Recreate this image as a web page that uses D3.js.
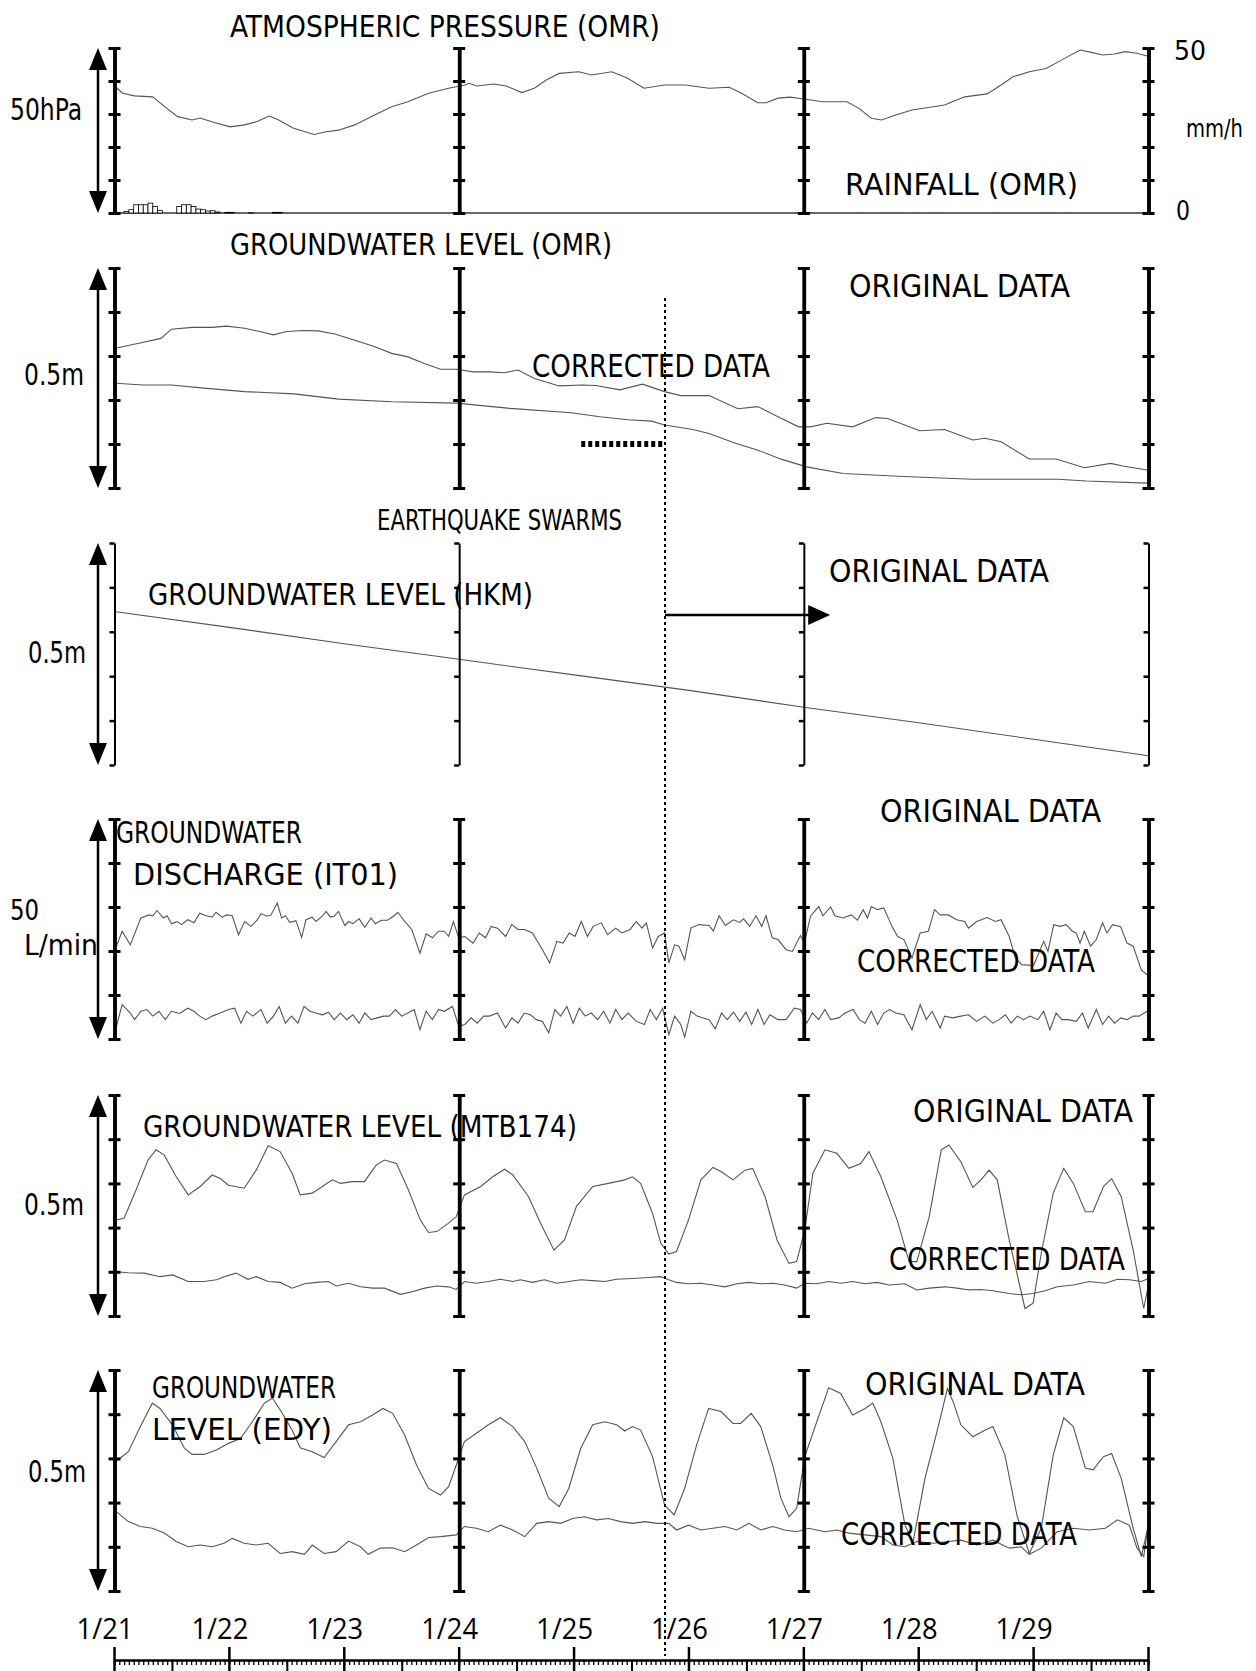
<!DOCTYPE html>
<html>
<head>
<meta charset="utf-8">
<script src="https://cdn.jsdelivr.net/npm/d3@7"></script>
<style>
body { margin: 0; background: #fff; }
text { font-family: "DejaVu Sans Condensed", "DejaVu Sans", sans-serif; fill: #000; }
text.day { font-family: "Open Sans", "DejaVu Sans", sans-serif; }
</style>
</head>
<body>
<div id="chart"></div>
<script>
// ---- data (time in hours from 1/21 00:00) ----
const dayLabels = ["1/21", "1/22", "1/23", "1/24", "1/25", "1/26", "1/27", "1/28", "1/29"]
const eqSwarmHour = 115            // start of earthquake swarms
const swarmBar = [97.5, 114.5]     // thick dotted bar in OMR panel
const swarmArrow = [115, 149.5]    // arrow in HKM panel

// atmospheric pressure (hPa, relative to bottom of panel)
const pressure = [[0.3,38.1],[1.7,36.3],[4.2,35.5],[8.0,35.2],[10.6,32.1],[13.2,29.2],[16.2,28.2],[17.9,28.8],[20.8,27.4],[24.2,26.1],[27.2,26.7],[29.8,27.7],[32.3,29.4],[34.0,28.4],[37.4,25.7],[41.7,23.8],[44.2,24.6],[46.8,25.1],[50.2,26.7],[53.6,29.2],[57.9,32.2],[61.3,33.7],[65.6,36.3],[69.8,37.8],[73.2,38.8],[74.0,39.3],[75.7,38.5],[79.2,39.1],[81.8,38.5],[85.1,36.5],[87.7,37.8],[90.2,40.3],[92.9,42.3],[97.0,42.8],[99.6,41.8],[103.9,42.8],[107.2,40.8],[110.6,37.8],[114.9,38.8],[119.2,38.8],[124.2,37.8],[128.4,38.1],[131.0,36.3],[134.4,33.4],[136.1,33.4],[138.6,34.8],[141.1,35.1],[143.7,34.6],[147.9,33.7],[153.0,33.7],[155.5,31.7],[158.1,28.7],[160.2,28.2],[163.2,29.7],[166.6,31.2],[173.4,32.7],[177.6,35.2],[182.3,36.1],[185.2,38.8],[187.7,41.3],[191.1,42.8],[194.6,43.8],[197.9,46.4],[201.7,49.4],[204.3,48.6],[206.4,47.9],[208.9,48.2],[211.1,48.9],[213.6,48.4],[215.7,47.6]]

// hourly rainfall (mm/h)
const rainfall = [[2,0.5],[3,1.0],[4,2.5],[5,2.5],[6,2.5],[7,3.0],[8,2.0],[9,0.8],[13,2.0],[14,2.5],[15,2.5],[16,2.0],[17,1.2],[18,1.0],[19,0.6],[20,0.7],[21,0.3],[23,0.2],[24,0.2],[28,0.1],[33,0.2],[34,0.2]]

// groundwater level OMR (m)
const omrOriginal = [[0.4,0.318],[5.1,0.329],[9.7,0.340],[11.9,0.361],[16.2,0.365],[20.4,0.365],[23.4,0.368],[27.2,0.363],[30.6,0.355],[33.2,0.348],[35.7,0.355],[39.2,0.358],[42.5,0.357],[46.0,0.350],[50.2,0.336],[54.4,0.321],[57.9,0.306],[61.3,0.298],[64.7,0.283],[68.1,0.270],[71.5,0.270],[74.9,0.264],[78.4,0.264],[81.4,0.262],[84.3,0.268],[87.7,0.249],[92.9,0.232],[97.8,0.234],[100.5,0.233],[105.6,0.223],[110.3,0.236],[114.9,0.219],[118.3,0.210],[124.2,0.210],[130.2,0.180],[134.4,0.185],[138.6,0.162],[142.9,0.139],[145.4,0.139],[148.8,0.147],[154.2,0.139],[159.0,0.160],[161.5,0.158],[168.2,0.130],[173.4,0.133],[179.3,0.109],[181.8,0.113],[185.2,0.105],[191.1,0.066],[196.7,0.066],[202.6,0.046],[208.1,0.056],[210.6,0.050],[215.7,0.041]]
const omrCorrected = [[0.4,0.238],[5.9,0.234],[11.9,0.234],[18.7,0.227],[27.2,0.219],[37.5,0.214],[46.8,0.202],[57.9,0.196],[71.5,0.193],[82.6,0.181],[95.4,0.171],[101.4,0.162],[107.3,0.155],[112.2,0.152],[114.9,0.143],[120.8,0.133],[124.2,0.124],[129.4,0.103],[134.4,0.086],[139.4,0.065],[144.6,0.048],[152.2,0.033],[164.9,0.026],[179.3,0.020],[197.1,0.020],[203.0,0.016],[215.7,0.011]]

// groundwater level HKM (m)
const hkmOriginal = [[0.3,0.345],[24,0.310],[48,0.273],[72,0.238],[96,0.203],[120,0.168],[144,0.130],[168,0.095],[192,0.058],[216,0.021]]

// groundwater discharge IT01 (L/min)
const it01Original = [[0.4,21.1],[1.6,24.5],[3.3,21.4],[5.5,27.5],[7.2,28.2],[8.0,28.0],[8.9,29.2],[10.2,27.5],[11.0,28.0],[11.9,26.2],[13.1,26.7],[14.0,26.0],[15.3,27.1],[16.6,26.4],[17.8,28.6],[19.1,28.0],[20.4,27.7],[21.2,28.8],[22.5,27.7],[23.4,28.2],[24.6,28.0],[25.9,23.7],[27.2,26.7],[28.5,25.6],[29.8,27.0],[30.6,28.5],[31.9,27.9],[32.7,28.2],[34.0,30.9],[34.9,27.5],[35.7,28.0],[36.6,26.5],[37.9,26.9],[39.1,23.1],[40.0,27.1],[41.3,27.7],[42.1,26.7],[43.4,27.9],[44.2,29.0],[45.1,27.7],[45.9,27.9],[46.8,29.0],[48.1,25.8],[48.9,26.7],[49.8,26.2],[51.1,27.3],[52.3,25.4],[53.6,27.5],[54.5,26.2],[55.7,27.0],[57.0,27.0],[58.3,27.9],[59.2,28.8],[60.4,27.0],[62.1,24.9],[63.8,19.5],[65.1,23.9],[66.4,23.0],[67.7,24.5],[68.9,24.5],[69.8,23.3],[70.8,26.7],[71.9,23.0],[73.2,23.3],[74.9,21.8],[76.2,24.1],[77.5,23.0],[78.7,25.6],[80.0,25.2],[81.7,23.3],[83.0,26.0],[84.3,24.9],[85.6,24.9],[87.3,24.1],[89.4,20.3],[90.9,17.3],[92.4,22.2],[93.7,21.8],[95.0,24.1],[96.2,23.3],[97.5,26.7],[98.8,23.3],[100.0,25.6],[101.7,26.4],[103.0,23.7],[104.7,25.2],[106.0,24.1],[107.7,24.9],[109.0,26.7],[110.2,25.2],[111.1,26.4],[112.4,20.7],[113.6,23.3],[114.9,24.1],[115.8,17.3],[117.0,21.4],[117.9,21.1],[119.1,18.0],[120.4,25.2],[122.1,26.0],[124.2,25.8],[125.1,24.5],[126.3,28.0],[127.6,25.8],[129.3,27.1],[130.6,26.5],[131.4,27.3],[132.7,25.6],[134.0,28.0],[135.2,25.6],[136.1,28.0],[137.4,23.0],[138.6,22.6],[140.3,20.3],[141.6,19.9],[143.3,23.5],[144.1,21.8],[145.4,27.9],[147.1,30.1],[148.0,28.0],[149.6,30.0],[150.5,28.0],[152.2,27.5],[153.9,28.2],[155.2,27.0],[156.4,29.4],[157.3,27.5],[158.1,30.1],[159.4,29.4],[160.7,29.8],[162.4,25.6],[163.6,23.3],[164.9,22.6],[166.6,18.4],[168.3,24.1],[170.0,24.5],[171.3,29.4],[172.5,28.2],[174.2,28.2],[175.9,27.1],[177.6,26.7],[178.4,25.2],[180.1,26.7],[182.3,27.6],[184.0,26.7],[185.2,27.1],[186.9,23.3],[188.2,18.4],[189.5,16.9],[192.0,16.7],[194.1,22.2],[195.0,19.9],[196.2,26.0],[197.5,25.6],[198.8,26.0],[200.1,24.5],[200.9,24.1],[201.7,21.8],[202.6,24.5],[203.9,21.1],[205.1,22.6],[206.4,26.4],[207.3,24.1],[208.5,26.0],[210.2,25.5],[211.5,21.8],[212.8,21.1],[214.5,15.7],[215.7,14.6]]
const it01Corrected = [[0.4,2.9],[1.6,7.8],[3.3,5.9],[4.2,4.4],[5.5,6.3],[6.8,6.7],[8.0,5.2],[9.3,6.3],[10.6,4.4],[11.9,6.3],[13.6,5.8],[15.3,7.0],[16.6,6.3],[17.8,5.2],[19.1,4.4],[20.4,5.2],[22.1,5.9],[23.8,6.7],[25.1,7.0],[26.4,3.6],[27.6,6.3],[28.9,5.2],[30.6,6.7],[31.9,3.6],[33.2,5.2],[34.4,7.4],[35.7,3.6],[37.0,5.2],[38.3,3.6],[39.6,7.4],[40.8,6.3],[42.1,5.9],[43.4,5.5],[44.7,6.1],[45.9,4.4],[47.2,5.9],[48.5,4.4],[49.8,5.5],[51.1,3.6],[52.3,5.9],[53.6,4.4],[54.9,4.8],[56.2,5.2],[57.4,5.2],[58.7,6.7],[60.0,5.2],[61.3,5.9],[62.6,6.7],[63.8,2.1],[65.1,6.3],[66.4,4.4],[67.7,6.7],[68.9,6.3],[70.6,7.4],[71.9,2.9],[73.2,3.3],[74.5,4.8],[75.8,3.6],[77.1,5.2],[78.3,5.2],[80.0,5.9],[81.7,2.5],[83.0,4.8],[84.3,3.6],[85.6,5.9],[86.9,5.5],[88.1,4.4],[89.4,4.0],[90.7,1.4],[92.0,6.7],[93.2,5.2],[94.5,7.4],[95.8,3.6],[97.1,7.0],[98.3,5.2],[99.6,5.9],[100.9,4.4],[102.2,6.3],[103.5,3.6],[104.7,6.7],[106.0,4.4],[107.3,5.9],[109.0,4.0],[110.7,3.3],[111.9,6.7],[113.2,4.4],[114.5,7.0],[115.8,1.0],[117.0,5.2],[118.3,3.3],[119.1,0.4],[120.4,6.3],[121.7,5.2],[124.2,4.4],[125.5,2.3],[126.8,5.9],[128.0,4.4],[129.3,6.1],[130.6,4.0],[131.9,6.1],[133.1,3.3],[134.4,6.7],[135.7,3.3],[136.9,5.5],[138.6,4.4],[140.3,4.4],[142.0,7.0],[143.3,6.7],[144.6,3.6],[145.8,5.9],[147.1,4.4],[148.4,6.7],[149.6,4.4],[151.3,4.8],[152.6,5.9],[154.3,6.7],[155.6,4.4],[156.8,3.6],[158.1,6.3],[159.4,3.3],[160.7,5.9],[161.9,6.7],[163.2,5.9],[164.9,5.5],[166.6,2.1],[168.3,7.8],[169.6,4.4],[170.8,6.3],[172.5,2.5],[173.4,5.2],[175.1,4.8],[176.8,5.2],[178.4,5.5],[180.1,4.0],[181.8,5.2],[183.5,3.6],[184.8,4.4],[186.1,5.5],[187.3,3.6],[188.6,5.2],[189.9,4.4],[191.2,5.2],[192.9,4.4],[194.1,6.3],[195.4,2.1],[196.7,5.9],[197.9,4.4],[199.2,4.4],[200.9,4.0],[202.2,5.9],[203.4,2.5],[205.1,6.7],[206.4,3.3],[207.7,5.2],[208.9,3.6],[210.2,4.8],[211.5,4.4],[212.8,5.2],[214.0,5.2],[215.7,6.3]]

// groundwater level MTB174 (m)
const mtbOriginal = [[0.3,0.217],[2.0,0.221],[4.5,0.285],[7.0,0.353],[8.7,0.376],[10.4,0.364],[12.9,0.315],[15.4,0.274],[17.9,0.293],[20.4,0.319],[22.1,0.311],[23.8,0.296],[27.1,0.289],[29.6,0.330],[32.1,0.385],[34.6,0.372],[37.1,0.323],[38.8,0.274],[41.3,0.278],[43.8,0.296],[45.5,0.308],[47.2,0.300],[49.7,0.304],[52.2,0.304],[54.7,0.342],[56.4,0.353],[58.9,0.345],[61.4,0.285],[63.9,0.217],[65.6,0.189],[67.3,0.191],[69.8,0.210],[71.4,0.225],[73.1,0.274],[76.5,0.293],[79.0,0.315],[81.5,0.332],[83.2,0.319],[86.5,0.270],[89.0,0.210],[91.8,0.149],[94.0,0.172],[96.5,0.248],[99.9,0.293],[103.2,0.300],[106.6,0.308],[108.2,0.315],[109.9,0.300],[112.4,0.232],[114.1,0.165],[115.8,0.140],[117.4,0.146],[119.9,0.217],[122.5,0.308],[125.0,0.336],[126.7,0.327],[129.2,0.308],[131.7,0.330],[133.3,0.334],[135.9,0.270],[138.4,0.172],[140.9,0.119],[142.5,0.123],[144.2,0.195],[145.9,0.323],[148.4,0.376],[150.9,0.368],[153.4,0.334],[155.9,0.345],[157.6,0.372],[160.1,0.315],[163.5,0.217],[166.0,0.123],[167.6,0.123],[170.2,0.225],[172.7,0.376],[174.3,0.387],[176.8,0.349],[179.3,0.291],[181.0,0.308],[182.7,0.330],[184.4,0.308],[186.9,0.172],[190.2,0.017],[191.9,0.029],[193.6,0.142],[196.1,0.278],[198.3,0.334],[200.3,0.300],[202.8,0.236],[204.4,0.236],[206.6,0.293],[208.3,0.311],[210.3,0.270],[212.8,0.149],[215.0,0.017],[216,0.070]]
const mtbCorrected = [[0.3,0.100],[2.9,0.098],[6.2,0.097],[9.5,0.089],[12.1,0.093],[15.4,0.078],[18.7,0.078],[21.3,0.082],[22.9,0.089],[25.4,0.097],[27.9,0.083],[29.6,0.089],[32.1,0.078],[34.6,0.076],[37.1,0.063],[39.7,0.073],[42.2,0.076],[44.7,0.078],[46.3,0.068],[48.9,0.074],[51.4,0.066],[53.9,0.063],[56.4,0.063],[59.7,0.049],[62.2,0.055],[64.8,0.063],[67.3,0.068],[69.8,0.066],[71.4,0.060],[73.1,0.078],[75.6,0.074],[78.1,0.078],[80.6,0.083],[83.2,0.078],[84.8,0.082],[87.3,0.076],[89.8,0.082],[92.4,0.074],[94.9,0.078],[97.4,0.082],[99.9,0.080],[102.4,0.078],[104.9,0.083],[108.2,0.085],[111.6,0.087],[114.1,0.089],[115.8,0.082],[117.4,0.076],[119.9,0.073],[122.5,0.074],[125.0,0.070],[127.5,0.066],[130.0,0.073],[132.5,0.076],[135.0,0.073],[137.5,0.074],[140.0,0.070],[142.5,0.063],[144.2,0.074],[146.7,0.073],[149.2,0.078],[151.7,0.074],[154.2,0.078],[156.8,0.073],[159.3,0.076],[161.8,0.070],[165.1,0.073],[167.6,0.059],[170.2,0.063],[173.5,0.066],[176.0,0.063],[178.5,0.059],[181.0,0.060],[183.5,0.057],[186.9,0.051],[189.4,0.048],[191.9,0.051],[194.4,0.057],[196.9,0.066],[200.3,0.070],[203.6,0.078],[207.0,0.074],[209.5,0.083],[212.0,0.082],[214.5,0.078],[216,0.085]]

// groundwater level EDY (m)
const edyOriginal = [[0.3,0.293],[2.9,0.315],[5.4,0.372],[7.9,0.425],[9.5,0.413],[12.1,0.376],[14.6,0.323],[16.2,0.309],[18.7,0.309],[21.3,0.319],[23.8,0.334],[26.3,0.345],[28.8,0.383],[31.3,0.425],[33.0,0.436],[34.6,0.410],[37.1,0.364],[38.8,0.324],[41.3,0.315],[43.8,0.302],[46.3,0.338],[48.9,0.376],[51.4,0.383],[53.9,0.398],[56.1,0.413],[58.1,0.402],[60.6,0.353],[63.1,0.285],[65.6,0.232],[68.1,0.217],[69.8,0.236],[71.4,0.285],[73.1,0.338],[75.6,0.357],[78.1,0.376],[80.6,0.392],[83.2,0.372],[85.7,0.338],[88.2,0.278],[90.7,0.210],[92.9,0.191],[94.9,0.232],[97.4,0.323],[99.9,0.376],[102.4,0.383],[104.9,0.376],[106.6,0.362],[108.2,0.372],[109.9,0.364],[112.4,0.304],[114.9,0.195],[116.9,0.172],[119.1,0.232],[121.6,0.330],[124.1,0.413],[126.7,0.406],[129.2,0.379],[130.8,0.379],[133.0,0.402],[135.0,0.372],[137.5,0.285],[139.2,0.210],[140.9,0.168],[142.5,0.187],[144.2,0.304],[146.7,0.383],[149.2,0.460],[151.7,0.447],[154.2,0.398],[156.8,0.413],[158.4,0.425],[160.1,0.383],[162.6,0.300],[165.1,0.150],[166.8,0.110],[169.3,0.255],[171.8,0.360],[174.0,0.458],[175.2,0.428],[176.8,0.376],[179.3,0.349],[181.9,0.364],[183.5,0.372],[186.0,0.308],[188.5,0.172],[191.1,0.085],[193.6,0.142],[196.1,0.308],[198.3,0.392],[200.3,0.372],[202.8,0.278],[204.4,0.274],[206.6,0.304],[208.3,0.311],[210.3,0.255],[212.8,0.142],[214.5,0.078],[216,0.150]]
const edyCorrected = [[0.3,0.180],[2.9,0.157],[5.4,0.146],[7.9,0.142],[10.4,0.131],[12.9,0.112],[15.4,0.100],[17.9,0.104],[20.4,0.100],[22.9,0.108],[24.6,0.119],[27.1,0.108],[29.6,0.104],[32.1,0.108],[34.6,0.085],[37.1,0.089],[39.7,0.083],[41.3,0.104],[43.8,0.085],[46.3,0.089],[48.9,0.113],[51.4,0.100],[53.0,0.083],[55.5,0.097],[58.1,0.098],[60.6,0.089],[63.1,0.104],[65.6,0.121],[68.1,0.123],[71.4,0.127],[73.1,0.146],[75.6,0.142],[78.1,0.134],[80.6,0.149],[83.2,0.138],[85.7,0.123],[88.2,0.153],[90.7,0.157],[93.2,0.153],[95.7,0.164],[98.2,0.168],[100.7,0.161],[103.2,0.164],[105.7,0.157],[108.2,0.153],[110.8,0.157],[113.3,0.153],[115.8,0.153],[117.4,0.138],[119.9,0.149],[122.5,0.138],[125.0,0.142],[127.5,0.146],[130.0,0.138],[132.5,0.153],[135.0,0.138],[137.5,0.146],[140.0,0.138],[142.5,0.134],[145.0,0.142],[148.4,0.134],[150.9,0.138],[153.4,0.131],[156.8,0.127],[160.1,0.123],[162.6,0.104],[165.1,0.100],[167.6,0.112],[171.0,0.108],[174.3,0.112],[176.8,0.115],[180.2,0.104],[183.5,0.115],[186.9,0.097],[189.4,0.100],[191.1,0.083],[193.6,0.097],[196.9,0.134],[200.3,0.142],[203.6,0.138],[207.0,0.142],[209.5,0.161],[212.0,0.149],[213.6,0.097],[215.0,0.078],[216,0.153]]

// ---- layout ----
const width = 1256
const height = 1671
const svg = d3.select("#chart").append("svg").attr("width", width).attr("height", height)

const x = d3.scaleLinear().domain([0, 216]).range([114.5, 1148.5])
const axisHours = [0, 72, 144, 216]

const panels = {
    p1: { top: 48, bottom: 213, max: 50 },
    p2: { top: 268, bottom: 488, max: 0.5 },
    p3: { top: 543, bottom: 765, max: 0.5 },
    p4: { top: 819, bottom: 1039, max: 50 },
    p5: { top: 1095, bottom: 1316, max: 0.5 },
    p6: { top: 1370, bottom: 1591, max: 0.5 }
}
Object.values(panels).forEach(p => {
    p.y = d3.scaleLinear().domain([0, p.max]).range([p.bottom, p.top])
})

const line = y => d3.line().x(d => x(d[0])).y(d => y(d[1]))

function drawAxes(p, thin) {
    const tv = d3.range(6).map(i => i * p.max / 5)
    axisHours.forEach(h => {
        const g = svg.append("g").attr("transform", `translate(${x(h)},0)`)
        g.call(d3.axisLeft(p.y).tickValues(tv).tickSizeInner(thin ? 5 : 6).tickSizeOuter(0).tickFormat(""))
        if (!thin) {
            g.append("g").call(d3.axisRight(p.y).tickValues(tv).tickSizeInner(6).tickSizeOuter(0).tickFormat(""))
        }
        g.selectAll(".domain").attr("stroke", "#000").attr("stroke-width", thin ? 2 : 3.5)
        g.selectAll(".tick line").attr("stroke", "#000").attr("stroke-width", thin ? 2.5 : 3)
    })
}

function drawArrow(p, ax) {
    const g = svg.append("g")
    g.append("line").attr("x1", ax).attr("x2", ax).attr("y1", p.top + 10).attr("y2", p.bottom - 10)
        .attr("stroke", "#000").attr("stroke-width", 2.5)
    g.append("path").attr("d", `M${ax},${p.top}L${ax - 9},${p.top + 22}L${ax + 9},${p.top + 22}Z`)
    g.append("path").attr("d", `M${ax},${p.bottom}L${ax - 9},${p.bottom - 22}L${ax + 9},${p.bottom - 22}Z`)
}

function drawSeries(p, data) {
    svg.append("path").datum(data).attr("d", line(p.y))
        .attr("fill", "none").attr("stroke", "#555").attr("stroke-width", 1.1)
}

function label(txt, x0, x1, base, size) {
    svg.append("text").attr("x", x0).attr("y", base).attr("font-size", size)
        .attr("textLength", x1 - x0).attr("lengthAdjust", "spacingAndGlyphs").text(txt)
}

// panel 1: atmospheric pressure + rainfall
const p1 = panels.p1
svg.append("line").attr("x1", x(0)).attr("x2", x(216)).attr("y1", p1.bottom).attr("y2", p1.bottom)
    .attr("stroke", "#333").attr("stroke-width", 1.5)
svg.append("g").selectAll("rect").data(rainfall).enter().append("rect")
    .attr("x", d => x(d[0]))
    .attr("width", x(1) - x(0))
    .attr("y", d => p1.y(d[1]))
    .attr("height", d => p1.bottom - p1.y(d[1]))
    .attr("fill", "#fff").attr("stroke", "#000").attr("stroke-width", 0.8)
drawSeries(p1, pressure)

// panel 2: OMR groundwater
drawSeries(panels.p2, omrOriginal)
drawSeries(panels.p2, omrCorrected)
svg.append("line")
    .attr("x1", x(swarmBar[0])).attr("x2", x(swarmBar[1]))
    .attr("y1", panels.p2.y(0.1)).attr("y2", panels.p2.y(0.1))
    .attr("stroke", "#000").attr("stroke-width", 6).attr("stroke-dasharray", "4,3")

// panel 3: HKM
drawSeries(panels.p3, hkmOriginal)
const ay = panels.p3.y(0.338)
svg.append("line").attr("x1", x(swarmArrow[0])).attr("x2", x(swarmArrow[1]) - 18)
    .attr("y1", ay).attr("y2", ay).attr("stroke", "#000").attr("stroke-width", 2.5)
svg.append("path").attr("d", `M${x(swarmArrow[1])},${ay}L${x(swarmArrow[1]) - 22},${ay - 10}L${x(swarmArrow[1]) - 22},${ay + 10}Z`)

// panel 4..6
drawSeries(panels.p4, it01Original)
drawSeries(panels.p4, it01Corrected)
drawSeries(panels.p5, mtbOriginal)
drawSeries(panels.p5, mtbCorrected)
drawSeries(panels.p6, edyOriginal)
drawSeries(panels.p6, edyCorrected)

// axes and arrows
drawAxes(panels.p1, false)
drawAxes(panels.p2, false)
drawAxes(panels.p3, true)
drawAxes(panels.p4, false)
drawAxes(panels.p5, false)
drawAxes(panels.p6, false)
Object.values(panels).forEach(p => drawArrow(p, 98))

// earthquake swarm line
svg.append("line").attr("x1", x(eqSwarmHour)).attr("x2", x(eqSwarmHour)).attr("y1", 298).attr("y2", 1656)
    .attr("stroke", "#000").attr("stroke-width", 2).attr("stroke-dasharray", "3,3")

// bottom time axis
const tAxisY = 1660
svg.append("g").attr("transform", `translate(0,${tAxisY})`)
    .call(d3.axisBottom(x).tickValues(d3.range(0, 217, 1)).tickSizeInner(5).tickSizeOuter(0).tickFormat(""))
    .call(g => g.selectAll(".tick line").attr("stroke-width", 1.3))
    .call(g => g.select(".domain").attr("stroke-width", 2.7))
svg.append("g").attr("transform", `translate(0,${tAxisY})`)
    .call(d3.axisBottom(x).tickValues(d3.range(12, 216, 24)).tickSizeInner(12).tickSizeOuter(0).tickFormat(""))
    .call(g => g.selectAll(".tick line").attr("stroke-width", 2))
    .call(g => g.select(".domain").remove())
svg.append("g").selectAll("line").data(d3.range(0, 217, 24)).enter().append("line")
    .attr("x1", d => x(d)).attr("x2", d => x(d)).attr("y1", 1647).attr("y2", 1671)
    .attr("stroke", "#000").attr("stroke-width", 2.5)
svg.append("g").selectAll("text").data(dayLabels).enter().append("text")
    .attr("class", "day")
    .attr("x", (d, i) => x(i * 24) - 38)
    .attr("y", 1639)
    .attr("font-size", 30)
    .attr("textLength", 57).attr("lengthAdjust", "spacingAndGlyphs")
    .text(d => d)

// labels
label("ATMOSPHERIC PRESSURE (OMR)", 230, 660, 37, 31)
label("50hPa", 10, 82, 120, 30)
label("50", 1174, 1206, 60, 27)
label("mm/h", 1186, 1243, 137, 25)
label("0", 1176, 1190, 220, 27)
label("RAINFALL (OMR)", 845, 1078, 195, 31)

label("GROUNDWATER LEVEL (OMR)", 230, 612, 255, 31)
label("0.5m", 24, 84, 385, 30)
label("ORIGINAL DATA", 849, 1070, 297, 32)
label("CORRECTED DATA", 532, 770, 377, 32)
label("EARTHQUAKE SWARMS", 377, 622, 530, 28)

label("GROUNDWATER LEVEL (HKM)", 148, 533, 605, 31)
label("0.5m", 28, 86, 663, 30)
label("ORIGINAL DATA", 829, 1049, 582, 32)

label("GROUNDWATER", 116, 302, 843, 31)
label("DISCHARGE (IT01)", 133, 398, 885, 31)
label("50", 10, 39, 920, 28)
label("L/min", 24, 98, 955, 29)
label("ORIGINAL DATA", 880, 1101, 822, 32)
label("CORRECTED DATA", 857, 1095, 972, 32)

label("GROUNDWATER LEVEL (MTB174)", 143, 577, 1137, 31)
label("0.5m", 24, 84, 1215, 30)
label("ORIGINAL DATA", 913, 1133, 1122, 32)
label("CORRECTED DATA", 889, 1125, 1270, 32)

label("GROUNDWATER", 152, 336, 1398, 31)
label("LEVEL (EDY)", 152, 332, 1440, 31)
label("0.5m", 28, 86, 1482, 30)
label("ORIGINAL DATA", 865, 1085, 1395, 32)
label("CORRECTED DATA", 841, 1077, 1545, 32)
</script>
</body>
</html>
